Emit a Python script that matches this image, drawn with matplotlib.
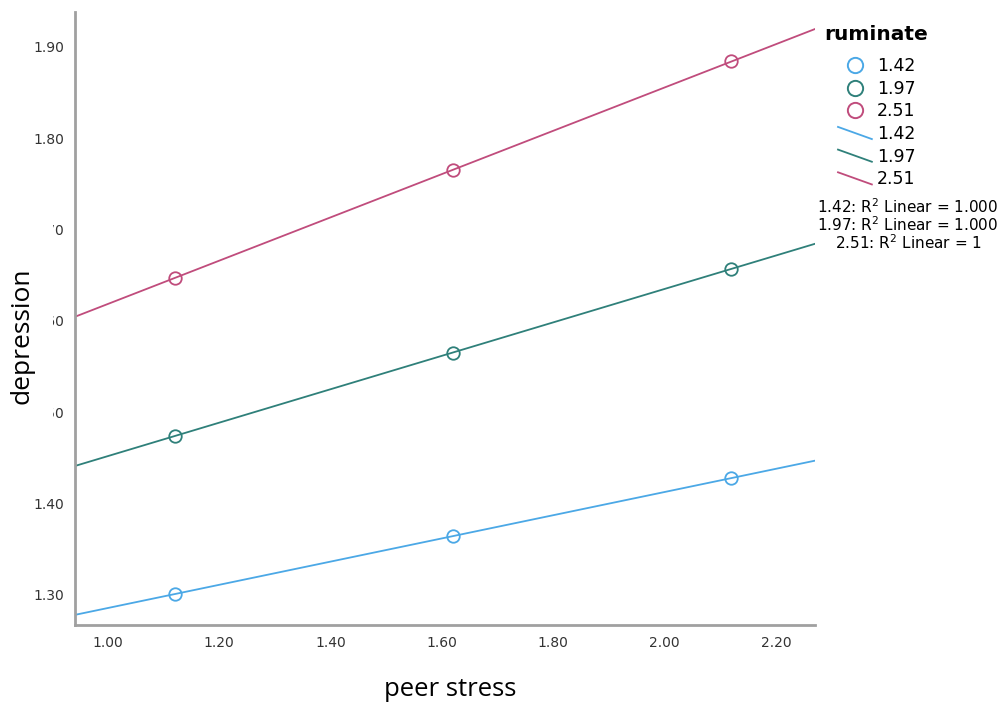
import numpy as np
import matplotlib
matplotlib.use("Agg")
import matplotlib.pyplot as plt
from matplotlib.lines import Line2D
from matplotlib.legend_handler import HandlerBase
from matplotlib.patches import Rectangle

# ---- data ----
peer_stress = [1.12, 1.62, 2.12]
ruminate_levels = ["1.42", "1.97", "2.51"]
dep_142 = [1.301, 1.364, 1.428]
dep_197 = [1.474, 1.565, 1.657]
dep_251 = [1.647, 1.765, 1.884]
r2_labels = ["1.42: R$^2$ Linear = 1.000", "1.97: R$^2$ Linear = 1.000", "2.51: R$^2$ Linear = 1"]
x_ticks = [1.00, 1.20, 1.40, 1.60, 1.80, 2.00, 2.20]
y_ticks = [1.30, 1.40, 1.50, 1.60, 1.70, 1.80, 1.90]

colors = ["#4BA8E6", "#2F807A", "#C04C7C"]
series = [dep_142, dep_197, dep_251]

W, H = 1006, 704
fig = plt.figure(figsize=(W / 100, H / 100), dpi=100)
ax = fig.add_axes([75 / W, 1 - 625 / H, (815 - 75) / W, (625 - 12) / H])

xlim = (0.941, 2.270)
ylim = (1.267, 1.938)
xx = np.array(xlim)
for ys, c in zip(series, colors):
    k, b = np.polyfit(peer_stress, ys, 1)
    ax.plot(xx, k * xx + b, color=c, lw=1.3, zorder=2)
    ax.plot(peer_stress, ys, ls="none", marker="o", ms=9, mfc="none",
            mec=c, mew=1.3, zorder=3)

ax.set_xlim(*xlim)
ax.set_ylim(*ylim)
ax.set_xticks(x_ticks)
ax.set_xticklabels([f"{v:.2f}" for v in x_ticks])
ax.set_yticks(y_ticks)
ax.set_yticklabels([f"{v:.2f}" for v in y_ticks])
ax.tick_params(length=0, labelsize=10, colors="#333333", pad=8)
for s in ["top", "right"]:
    ax.spines[s].set_visible(False)
for s in ["left", "bottom"]:
    ax.spines[s].set_color("#a0a0a0")
    ax.spines[s].set_linewidth(2)

fig.text(450 / W, 1 - 690 / H, "peer stress", ha="center", va="center",
         fontsize=18.5, family="Open Sans")

# occlusion behind y label (as in reference)
fig.patches.append(Rectangle((0, 1 - 425 / H), 53 / W, 210 / H,
                             transform=fig.transFigure, facecolor="white",
                             edgecolor="none", zorder=5))
fig.text(22 / W, 1 - 336 / H, "depression", ha="center", va="center",
         rotation=90, fontsize=19, family="Open Sans", zorder=6)


class DiagHandler(HandlerBase):
    def create_artists(self, legend, orig_handle, xdescent, ydescent,
                       width, height, fontsize, trans):
        ln = Line2D([-xdescent, -xdescent + width],
                    [-ydescent + height * 1.0, -ydescent],
                    color=orig_handle.get_color(), lw=1.3)
        ln.set_transform(trans)
        return [ln]


marker_handles = [Line2D([], [], ls="none", marker="o", ms=11, mfc="none",
                         mec=c, mew=1.4) for c in colors]
line_handles = [Line2D([], [], color=c, lw=1.3) for c in colors]
handler_map = {h: DiagHandler() for h in line_handles}

leg = fig.legend(marker_handles + line_handles,
                 ruminate_levels + ruminate_levels,
                 handler_map=handler_map,
                 loc="upper left", bbox_to_anchor=(838 / W, 1 - 57 / H),
                 bbox_transform=fig.transFigure, frameon=False,
                 fontsize=12.5, handlelength=1.95, handletextpad=0.3,
                 labelspacing=0.27, borderpad=0, borderaxespad=0)

fig.text(824 / W, 1 - 35 / H, "ruminate", ha="left", va="center",
         fontsize=14.5, fontweight="bold")

for i, t in enumerate(r2_labels):
    fig.text(908 / W, 1 - (207 + 18 * i) / H, t, ha="center", va="center",
             fontsize=11)

fig.savefig("out.png", dpi=100)
